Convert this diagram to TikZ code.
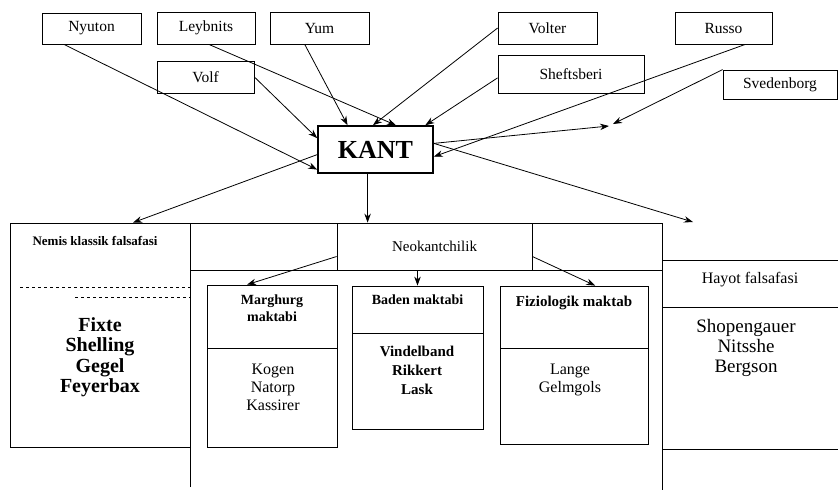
\documentclass[tikz,border=0pt]{standalone}
\usepackage{fontspec}
\setmainfont{Liberation Serif}
\usetikzlibrary{arrows.meta,positioning}

\begin{document}
\begin{tikzpicture}[x=1pt, y=-1pt, line width=0.8pt, >={Stealth[length=9pt,width=6.5pt]},
  namebox/.style={draw, inner sep=0pt, font=\fontsize{15.5}{18}\selectfont},
  cell/.style={draw, inner sep=0pt},
  head/.style={font=\bfseries\fontsize{14}{17}\selectfont, align=center},
  names/.style={font=\fontsize{16}{18}\selectfont, align=center}]
  \useasboundingbox (0,0) rectangle (838,491);

  % predecessors
  \node[namebox, minimum width=99pt, minimum height=31pt] (nyuton) at (91.5,28.5) {Nyuton};
  \node[namebox, minimum width=98pt, minimum height=32pt] (leybnits) at (206,28) {Leybnits};
  \node[namebox, minimum width=99pt, minimum height=32pt] (yum) at (319.5,28) {Yum};
  \node[namebox, minimum width=97pt, minimum height=32pt] (volf) at (205.5,77) {Volf};
  \node[namebox, minimum width=99pt, minimum height=32pt] (volter) at (547.5,28) {Volter};
  \node[namebox, minimum width=97pt, minimum height=32pt] (russo) at (723.5,28) {Russo};
  \node[namebox, minimum width=146pt, minimum height=38pt] (sheftsberi) at (571,74) {Sheftsberi};
  \node[namebox, minimum width=114pt, minimum height=29pt] (svedenborg) at (780,84.5) {Svedenborg};

  \node[draw, line width=1.6pt, inner sep=0pt, minimum width=115pt, minimum height=47pt,
    font=\bfseries\fontsize{26}{30}\selectfont] (kant) at (375.5,149.5) {KANT};

  \coordinate (svedend) at (613,124);
  \coordinate (kantend) at (609,126);
  \coordinate (hayotin) at (693,222);

  \draw[->] (nyuton.210) -- (kant.199);
  \draw[->] (leybnits.280) -- (kant.50);
  \draw[->] (yum.228) -- (kant.139);
  \draw[->] (volf.east) -- (kant.169);
  \draw[->] (volter.west) -- (kant.96);
  \draw[->] (sheftsberi.183) -- (kant.26);
  \draw[->] (russo.323) -- (kant.353);
  \draw[->] (svedenborg.north west) -- (svedend);
  \draw[->] (kant.6) -- (kantend);

  % lower part
  \node[cell, minimum width=180pt, minimum height=224pt] (nemis) at (100,335) {};
  \node[font=\bfseries\fontsize{13}{15}\selectfont] (nemist) at (95,241) {Nemis klassik falsafasi};
  \draw[dashed, line width=0.6pt] (20,287) -- (190,287);
  \draw[dashed, line width=0.6pt] (75,297) -- (190,297);
  \node[align=center, font=\bfseries\fontsize{20}{20.5}\selectfont] (nemisl) at (100,357)
    {Fixte\\Shelling\\Gegel\\Feyerbax};

  \draw (190,487) -- (190,223) -- (662,223) -- (662,490);
  \draw (190,270) -- (662,270);
  \node[cell, minimum width=195pt, minimum height=47pt, font=\fontsize{15}{18}\selectfont]
    (neo) at (434.5,246.5) {Neokantchilik};

  \node[cell, minimum width=130pt, minimum height=63pt] (marg) at (272,316.5) {};
  \node[cell, minimum width=130pt, minimum height=99pt] (margn) at (272,397.5) {};
  \node[head] (margt) at (272,308) {Marghurg\\maktabi};
  \node[names] (margl) at (273,387) {Kogen\\Natorp\\Kassirer};

  \node[cell, minimum width=131pt, minimum height=47pt] (baden) at (417.5,309.5) {};
  \node[cell, minimum width=131pt, minimum height=96pt] (badenn) at (417.5,381) {};
  \node[head] (badent) at (417.5,300) {Baden maktabi};
  \node[names, font=\bfseries\fontsize{15}{19}\selectfont] (badenl) at (417,370)
    {Vindelband\\Rikkert\\Lask};

  \node[cell, minimum width=148pt, minimum height=62pt] (fiz) at (574,317) {};
  \node[cell, minimum width=148pt, minimum height=96pt] (fizn) at (574,396) {};
  \node[head, font=\bfseries\fontsize{15}{17}\selectfont] (fizt) at (574,303) {Fiziologik maktab};
  \node[names] (fizl) at (570,380) {Lange\\Gelmgols};

  \draw (662,260) -- (838,260);
  \draw (662,307) -- (838,307);
  \node[font=\fontsize{16}{18}\selectfont] (hayot) at (750,280) {Hayot falsafasi};
  \draw (662,449) -- (838,449);
  \node[names, font=\fontsize{19}{20}\selectfont] (hayotl) at (746,348)
    {Shopengauer\\Nitsshe\\Bergson};

  \draw[->] (kant.185) -- ([xshift=33pt]nemis.north);
  \draw[->] (kant.6) -- (hayotin);
  \draw[->] (kant.252) -- (kant.252 |- neo.north);

  \draw[->] ([yshift=-10pt]neo.west) -- (marg.128);
  \draw[->] (baden.north |- neo.south) -- (baden.north);
  \draw[->] ([yshift=-10pt]neo.east) -- (fiz.56);
\end{tikzpicture}
\end{document}
